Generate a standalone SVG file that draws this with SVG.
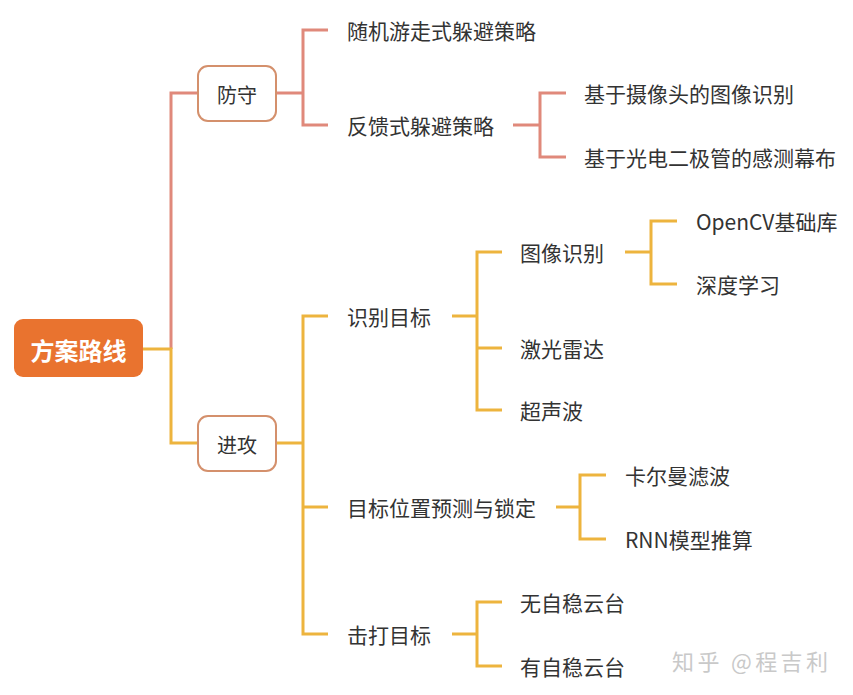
<svg xmlns="http://www.w3.org/2000/svg" width="853" height="695" viewBox="0 0 853 695">
<style>
text{font-family:"Noto Sans CJK SC","Noto Sans",sans-serif;dominant-baseline:central;}
.t{font-size:21px;fill:#333333;}
.b{font-size:20px;fill:#333333;text-anchor:middle;}
.r{fill:none;stroke:#E0897B;stroke-width:3;}
.y{fill:none;stroke:#EDB43E;stroke-width:3;}
.box{fill:#ffffff;stroke:#D4906C;stroke-width:2;}
</style>
<rect width="853" height="695" fill="#ffffff"/>
<g id="connectors">
<path class="r" d="M171 349 V93 H198"/>
<path class="y" d="M143 349 H171 V443 H198"/>
<path class="r" d="M276 93 H303 M328 30 H303 V125 H328"/>
<path class="r" d="M513 125 H540 M566 93 H540 V157 H566"/>
<path class="y" d="M276 443 H303 M328 316 H303 V634 H328 M303 507 H328"/>
<path class="y" d="M452 316 H477 M502 252 H477 V410 H502 M477 348 H502"/>
<path class="y" d="M625 252 H651 M677 221 H651 V284 H677"/>
<path class="y" d="M556 507 H580 M606 475 H580 V539 H606"/>
<path class="y" d="M452 634 H477 M502 602 H477 V666 H502"/>
</g>
<g id="root"><rect x="14" y="319" width="129" height="58" rx="9" fill="#E9732F"/><text x="78.5" y="349" font-size="24" font-weight="bold" fill="#ffffff" text-anchor="middle">方案路线</text></g>
<g id="fangshou"><rect class="box" x="198" y="66" width="78" height="55" rx="10"/><text class="b" x="237" y="94">防守</text></g>
<g id="jingong"><rect class="box" x="198" y="416" width="78" height="55" rx="10"/><text class="b" x="237" y="444">进攻</text></g>
<g id="n1"><text class="t" x="347" y="30">随机游走式躲避策略</text></g>
<g id="n2"><text class="t" x="347" y="125">反馈式躲避策略</text></g>
<g id="n3"><text class="t" x="584" y="93">基于摄像头的图像识别</text></g>
<g id="n4"><text class="t" x="584" y="157">基于光电二极管的感测幕布</text></g>
<g id="n5"><text class="t" x="347" y="316">识别目标</text></g>
<g id="n6"><text class="t" x="520" y="252">图像识别</text></g>
<g id="n7"><text class="t" x="696" y="221">OpenCV基础库</text></g>
<g id="n8"><text class="t" x="696" y="284">深度学习</text></g>
<g id="n9"><text class="t" x="520" y="348">激光雷达</text></g>
<g id="n10"><text class="t" x="520" y="410">超声波</text></g>
<g id="n11"><text class="t" x="347" y="507">目标位置预测与锁定</text></g>
<g id="n12"><text class="t" x="625" y="475">卡尔曼滤波</text></g>
<g id="n13"><text class="t" x="625" y="539">RNN模型推算</text></g>
<g id="n14"><text class="t" x="347" y="634">击打目标</text></g>
<g id="n15"><text class="t" x="520" y="602">无自稳云台</text></g>
<g id="n16"><text class="t" x="520" y="666">有自稳云台</text></g>
<text x="672" y="660" font-size="22" fill="#C9C9C9" textLength="156">知乎 @程吉利</text>
</svg>
